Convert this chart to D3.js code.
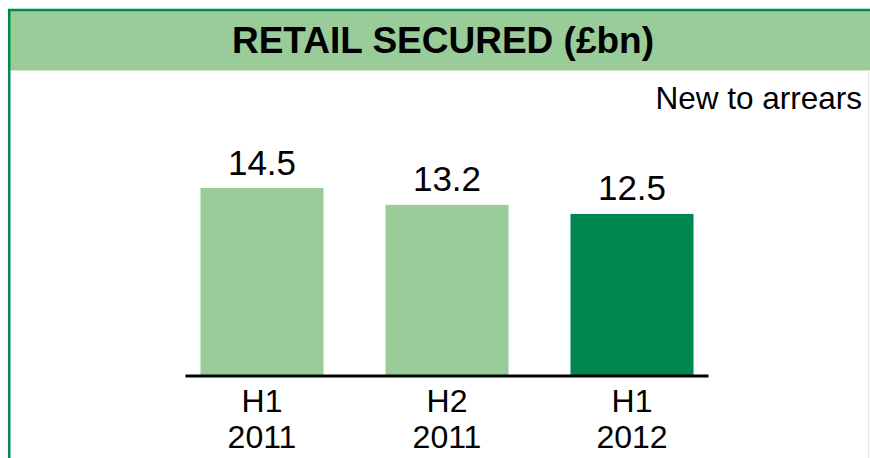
<!DOCTYPE html>
<html>
<head>
<meta charset="utf-8">
<style>
    body { margin: 0; background: #fff; }
    svg { display: block; font-family: "Liberation Sans", Arial, sans-serif; }
</style>
</head>
<body>
<svg width="870" height="458"></svg>
<script src="https://cdn.jsdelivr.net/npm/d3@7"></script>
<script>
    var periods = ["H1", "H2", "H1"];
    var years = ["2011", "2011", "2012"];
    var values = [14.5, 13.2, 12.5];
    var barColors = ["#99cc99", "#99cc99", "#008751"];

    var svg = d3.select("svg"),
        width = +svg.attr("width"),
        height = +svg.attr("height");

    var lightGreen = "#99cc99",
        borderGreen = "#00884c";

    // header band + frame
    svg.append("rect")
        .attr("x", 10).attr("y", 10)
        .attr("width", width - 10).attr("height", 60.5)
        .attr("fill", lightGreen);
    svg.append("line")
        .attr("x1", 8).attr("x2", width)
        .attr("y1", 10).attr("y2", 10)
        .attr("stroke", borderGreen).attr("stroke-width", 2.5);
    svg.append("line")
        .attr("x1", 9.2).attr("x2", 9.2)
        .attr("y1", 9).attr("y2", height)
        .attr("stroke", borderGreen).attr("stroke-width", 2.5);
    svg.append("line")
        .attr("x1", 868.5).attr("x2", 868.5)
        .attr("y1", 70).attr("y2", height)
        .attr("stroke", "#e8e8e8").attr("stroke-width", 1);

    svg.append("text")
        .attr("x", 443).attr("y", 53.3)
        .attr("text-anchor", "middle")
        .attr("font-weight", "bold")
        .attr("font-size", 37)
        .text("RETAIL SECURED (£bn)");

    svg.append("text")
        .attr("x", 862).attr("y", 109.3)
        .attr("text-anchor", "end")
        .attr("font-size", 31.5)
        .text("New to arrears");

    var idx = d3.range(values.length);
    var x = d3.scaleBand()
        .domain(idx)
        .range([169.5, 724.5])
        .paddingInner(0.335)
        .paddingOuter(0.1675);

    var baseY = 376;
    var y = d3.scaleLinear()
        .domain([0, 14.5])
        .range([baseY, 188]);

    svg.append("g")
        .selectAll("rect")
        .data(idx)
        .enter().append("rect")
        .attr("x", d => x(d))
        .attr("width", x.bandwidth())
        .attr("y", d => y(values[d]))
        .attr("height", d => baseY - y(values[d]))
        .attr("fill", d => barColors[d]);

    svg.append("g")
        .selectAll("text")
        .data(idx)
        .enter().append("text")
        .attr("x", d => x(d) + x.bandwidth() / 2)
        .attr("y", d => y(values[d]) - 13.5)
        .attr("text-anchor", "middle")
        .attr("font-size", 35)
        .text(d => values[d].toFixed(1));

    // axis line
    svg.append("line")
        .attr("x1", x(0) - 15).attr("x2", x(idx.length - 1) + x.bandwidth() + 15)
        .attr("y1", baseY).attr("y2", baseY)
        .attr("stroke", "#000").attr("stroke-width", 3);

    var cats = svg.append("g")
        .selectAll("text")
        .data(idx)
        .enter().append("text")
        .attr("text-anchor", "middle")
        .attr("font-size", 32);
    cats.append("tspan")
        .attr("x", d => x(d) + x.bandwidth() / 2)
        .attr("y", 411.7)
        .text(d => periods[d]);
    cats.append("tspan")
        .attr("x", d => x(d) + x.bandwidth() / 2)
        .attr("y", 448)
        .text(d => years[d]);
</script>
</body>
</html>
